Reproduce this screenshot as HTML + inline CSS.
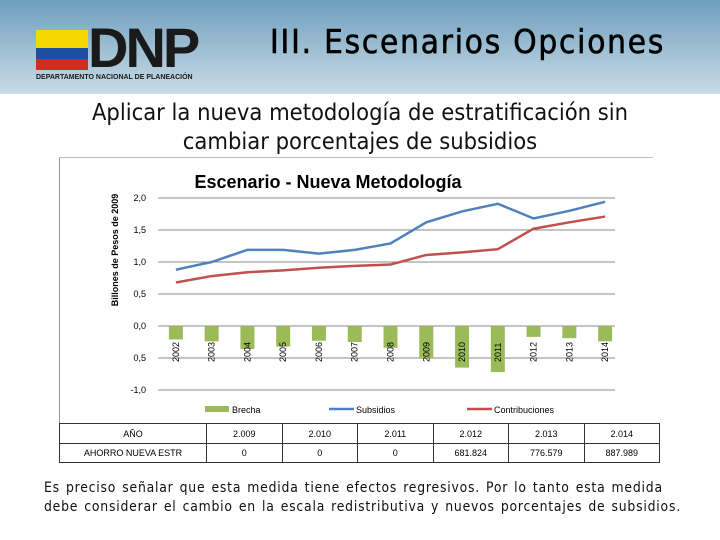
<!DOCTYPE html>
<html><head><meta charset="utf-8"><style>
body{margin:0;width:720px;height:540px;background:#fff;position:relative;overflow:hidden;font-family:"Liberation Sans",sans-serif}
#hdr{position:absolute;left:0;top:0;width:720px;height:94px;background:linear-gradient(#6f9fbf,#c9dbe5)}
.abs{position:absolute}
td{border:1px solid #333;padding:0}
</style></head><body>
<div id="hdr">
 <div class="abs" style="left:36px;top:30px;width:52px;height:18px;background:#f5d800"></div>
 <div class="abs" style="left:36px;top:48px;width:52px;height:11px;background:#1d4fa0"></div>
 <div class="abs" style="left:36px;top:59px;width:52px;height:11px;background:#d42a20"></div>
 <div class="abs" style="left:88px;top:20px;font:bold 56px 'Liberation Sans',sans-serif;letter-spacing:-3px;color:#1a1a1a;line-height:56px">DNP</div>
 <div class="abs" style="left:36px;top:74px;font:bold 7px 'Liberation Sans',sans-serif;color:#1a1a1a">DEPARTAMENTO NACIONAL DE PLANEACIÓN</div>
 <div class="abs" style="left:270px;top:22px;font:33px 'DejaVu Sans Condensed','DejaVu Sans',sans-serif;letter-spacing:1.8px;-webkit-text-stroke:0.6px #000;color:#000">III. Escenarios Opciones</div>
</div>
<div class="abs" style="left:50px;top:98px;width:620px;text-align:center;font:23.5px 'DejaVu Sans Condensed','DejaVu Sans',sans-serif;line-height:29px;color:#111">Aplicar la nueva metodología de estratificación sin cambiar porcentajes de subsidios</div>
<div class="abs" style="left:59px;top:157px;width:593px;height:266px;border-left:1px solid #999;border-top:1px solid #bbb"></div>
<svg class="abs" style="left:0;top:0" width="720" height="540" id="chart">
<text x="328" y="188" text-anchor="middle" font-family="Liberation Sans" font-weight="bold" font-size="18">Escenario - Nueva Metodología</text>
<text transform="translate(118,250) rotate(-90)" text-anchor="middle" font-family="Liberation Sans" font-weight="bold" font-size="9">Billones de Pesos de 2009</text>
<g id="g"></g>
</svg>
<table class="abs" style="left:59px;top:423px;width:601px;border-collapse:collapse;font:9px 'Liberation Sans',sans-serif;text-align:center;table-layout:fixed">
<tr style="height:20px"><td style="width:146px">AÑO</td><td>2.009</td><td>2.010</td><td>2.011</td><td>2.012</td><td>2.013</td><td>2.014</td></tr>
<tr style="height:19px"><td>AHORRO NUEVA ESTR</td><td>0</td><td>0</td><td>0</td><td>681.824</td><td>776.579</td><td>887.989</td></tr>
</table>
<div class="abs" style="left:44px;top:479px;white-space:nowrap;font:13.8px 'DejaVu Sans Condensed','DejaVu Sans',sans-serif;letter-spacing:0.8px;word-spacing:1.3px;line-height:19px;color:#111">Es preciso señalar que esta medida tiene efectos regresivos. Por lo tanto esta medida<br>debe considerar el cambio en la escala redistributiva y nuevos porcentajes de subsidios.</div>
<script>
const years=["2002","2003","2004","2005","2006","2007","2008","2009","2010","2011","2012","2013","2014"];
const subsidios=[0.88,1.0,1.19,1.19,1.13,1.19,1.29,1.62,1.79,1.91,1.68,1.8,1.94];
const contribuciones=[0.68,0.78,0.84,0.87,0.91,0.94,0.96,1.11,1.15,1.2,1.52,1.62,1.71];
const brecha=[-0.21,-0.24,-0.36,-0.32,-0.23,-0.25,-0.34,-0.51,-0.65,-0.72,-0.17,-0.19,-0.24];
const yTicks=[2,1.5,1,0.5,0,-0.5,-1];
const yLabels=["2,0","1,5","1,0","0,5","0,0","0,5","-1,0"];
const NS="http://www.w3.org/2000/svg",g=document.getElementById('g');
const x0=158,x1=623,bw=(x1-x0)/years.length;
const X=i=>x0+bw*(i+0.5), Y=v=>326-v*64;
function mk(t,a){const e=document.createElementNS(NS,t);for(const k in a)e.setAttribute(k,a[k]);g.appendChild(e);return e;}
yTicks.forEach((t,i)=>{
 const l=mk('line',{x1:x0,x2:x1-8,y1:Y(t),y2:Y(t),stroke:'#888','stroke-width':1});
 
 
 const tx=mk('text',{x:146,y:Y(t)+3,'text-anchor':'end','font-size':9,'font-family':'Liberation Sans'});tx.textContent=yLabels[i];
 
 
});
brecha.forEach((v,i)=>{
 const r=mk('rect',{x:X(i)-7,y:Y(0),width:14,height:Y(v)-Y(0),fill:'#9bbb59'});
 
 
});
years.forEach((y,i)=>{
 const t=mk('text',{transform:`translate(${X(i)+3},${Y(0)+36}) rotate(-90)`,'font-size':9,'font-family':'Liberation Sans'});t.textContent=y;
 
 
});
function line(d,c,n){const p=mk('polyline',{points:d.map((v,i)=>X(i)+','+Y(v)).join(' '),fill:'none',stroke:c,'stroke-width':2.5});
 
 }
line(subsidios,'#4f81bd','line-subsidios');
line(contribuciones,'#c0504d','line-contribuciones');
const leg=[['rect',205,'#9bbb59','Brecha','legend-brecha'],['line',329,'#4f81bd','Subsidios','legend-subsidios'],['line',467,'#c0504d','Contribuciones','legend-contribuciones']];
leg.forEach(L=>{
 let m;
 if(L[0]==='rect')m=mk('rect',{x:L[1],y:406,width:24,height:6,fill:L[2]});else m=mk('line',{x1:L[1],x2:L[1]+25,y1:409,y2:409,stroke:L[2],'stroke-width':2.5});
 
 
 const t=mk('text',{x:L[1]+27,y:413,'font-size':9,'font-family':'Liberation Sans'});t.textContent=L[3];
 
 
});
</script>
</body></html>
